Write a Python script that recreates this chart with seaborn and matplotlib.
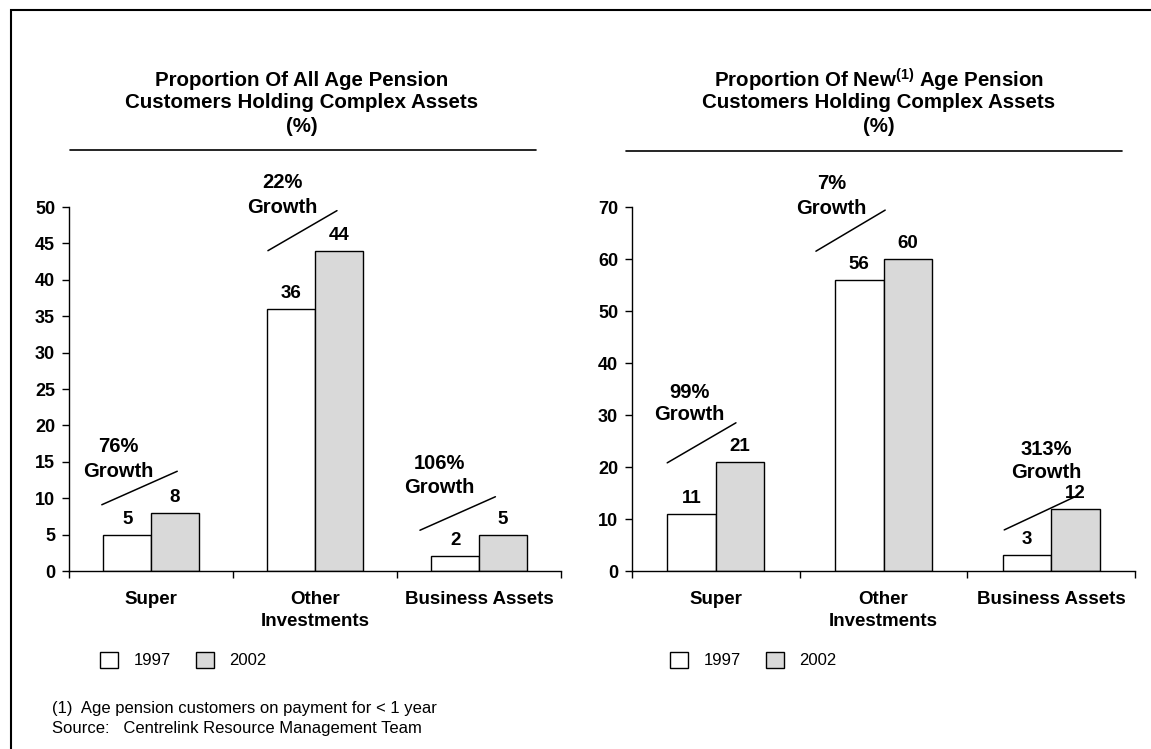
import matplotlib
matplotlib.use("Agg")
import matplotlib.pyplot as plt
from matplotlib.patches import Rectangle, Patch
from matplotlib.lines import Line2D
import seaborn as sns
import pandas as pd

# ---- data -------------------------------------------------------------
categories = ["Super", "Other\nInvestments", "Business Assets"]
years = ["1997", "2002"]

all_1997 = [5, 36, 2]
all_2002 = [8, 44, 5]
all_growth = ["76%", "22%", "106%"]

new_1997 = [11, 56, 3]
new_2002 = [21, 60, 12]
new_growth = ["99%", "7%", "313%"]

left_title = ["Proportion Of All Age Pension",
              "Customers Holding Complex Assets", "(%)"]
right_title = ["Proportion Of New$^{(1)}$ Age Pension",
               "Customers Holding Complex Assets", "(%)"]
left_ticks = [0, 5, 10, 15, 20, 25, 30, 35, 40, 45, 50]
right_ticks = [0, 10, 20, 30, 40, 50, 60, 70]

footnote = "(1)  Age pension customers on payment for < 1 year"
source = "Source:   Centrelink Resource Management Team"

# ---- style ------------------------------------------------------------
sns.set_theme(style="white")
plt.rcParams["font.family"] = ["Liberation Sans", "DejaVu Sans"]
plt.rcParams["text.color"] = "black"
plt.rcParams["axes.labelcolor"] = "black"
plt.rcParams["xtick.color"] = "black"
plt.rcParams["ytick.color"] = "black"
plt.rcParams["mathtext.fontset"] = "custom"
plt.rcParams["mathtext.rm"] = "Liberation Sans:bold"
plt.rcParams["mathtext.it"] = "Liberation Sans:bold"
plt.rcParams["mathtext.bf"] = "Liberation Sans:bold"

W, H = 1151, 749
fig = plt.figure(figsize=(W / 100, H / 100), dpi=100)
fig.patch.set_facecolor("white")


def fx(px):
    return px / W


def fy(py):
    return 1 - py / H


palette = {"1997": "white", "2002": "#d9d9d9"}


def long_frame(v97, v02):
    return pd.DataFrame({
        "category": categories * 2,
        "year": [years[0]] * 3 + [years[1]] * 3,
        "value": list(v97) + list(v02),
    })


def draw_panel(rect, v97, v02, ticks, growth, growth_pos, line_pos):
    ax = fig.add_axes(rect)
    df = long_frame(v97, v02)
    sns.barplot(data=df, x="category", y="value", hue="year",
                order=categories, hue_order=years, palette=palette,
                edgecolor="black", linewidth=1.0, width=0.58,
                legend=False, ax=ax)
    ax.set_xlim(-0.5, 2.5)
    ax.set_ylim(0, ticks[-1])
    ax.set_yticks(ticks)
    ax.set_yticklabels([str(t) for t in ticks], fontsize=13,
                       fontweight="bold", color="black")
    ax.set_xticks([-0.5, 0.5, 1.5, 2.5])
    ax.set_xticklabels([])
    ax.tick_params(axis="y", direction="out", length=5, width=1,
                   color="black", pad=5, left=True)
    ax.tick_params(axis="x", direction="out", length=5, width=1,
                   color="black", bottom=True)
    ax.set_xlabel("")
    ax.set_ylabel("")
    for side in ("top", "right"):
        ax.spines[side].set_visible(False)
    for side in ("left", "bottom"):
        ax.spines[side].set_color("black")
        ax.spines[side].set_linewidth(1.0)
    ax.set_facecolor("white")

    # value labels on every bar
    for cont, vals in zip(ax.containers, (v97, v02)):
        ax.bar_label(cont, labels=[str(v) for v in vals], padding=5,
                     fontsize=13.5, fontweight="bold", color="black")

    # category names under the axis
    for i, c in enumerate(categories):
        ax.text(i, -0.055, c, transform=ax.get_xaxis_transform(),
                ha="center", va="top", fontsize=13.5, fontweight="bold",
                linespacing=1.4, color="black")

    # growth annotations with slanted rule
    for g, (tx, ty1, ty2), (x0, y0, x1, y1) in zip(growth, growth_pos,
                                                     line_pos):
        ax.text(tx, ty1, g, ha="center", va="center", fontsize=14.5,
                fontweight="bold", clip_on=False, color="black")
        ax.text(tx, ty2, "Growth", ha="center", va="center",
                fontsize=14.5, fontweight="bold", clip_on=False,
                color="black")
        ax.add_line(Line2D([x0, x1], [y0, y1], color="black", lw=1.1,
                           clip_on=False))
    return ax


# left panel: all customers
ax1 = draw_panel(
    [fx(69), fy(571), fx(561) - fx(69), fy(207) - fy(571)],
    all_1997, all_2002, left_ticks, all_growth,
    [(-0.20, 17.1, 13.7), (0.80, 53.3, 49.9), (1.76, 14.8, 11.5)],
    [(-0.30, 9.1, 0.16, 13.7), (0.713, 44.0, 1.134, 49.5),
     (1.64, 5.6, 2.10, 10.2)],
)

# right panel: new customers
ax2 = draw_panel(
    [fx(632), fy(571), fx(1135) - fx(632), fy(207) - fy(571)],
    new_1997, new_2002, right_ticks, new_growth,
    [(-0.16, 34.4, 30.0), (0.69, 74.6, 69.8), (1.97, 23.4, 19.0)],
    [(-0.29, 20.8, 0.12, 28.5), (0.597, 61.5, 1.01, 69.4),
     (1.72, 7.9, 2.15, 14.4)],
)

# titles and rules above each panel
for lines, cx in ((left_title, 302), (right_title, 879)):
    for text, py in zip(lines, (80, 103, 127)):
        fig.text(fx(cx), fy(py), text, ha="center", va="center",
                 fontsize=14.8, fontweight="bold", color="black")
fig.add_artist(Line2D([fx(70), fx(536)], [fy(150), fy(150)],
                      color="black", lw=1.2))
fig.add_artist(Line2D([fx(626), fx(1122)], [fy(151), fy(151)],
                      color="black", lw=1.2))

# legends
handles = [Patch(facecolor=palette[y], edgecolor="black", linewidth=1.0,
                 label=y) for y in years]
for left_px in (100, 670):
    fig.legend(handles=handles, loc="center left",
               bbox_to_anchor=(fx(left_px), fy(660)),
               bbox_transform=fig.transFigure, ncol=2, frameon=False,
               fontsize=12, handlelength=1.1, handleheight=1.1,
               handletextpad=0.9, columnspacing=1.5, borderpad=0,
               borderaxespad=0, labelcolor="black")

# notes
fig.text(fx(52), fy(709), footnote, ha="left", va="center", fontsize=12,
         color="black")
fig.text(fx(52), fy(728), source, ha="left", va="center", fontsize=12,
         color="black")

# page frame
fig.add_artist(Rectangle((fx(11), fy(H + 20)), fx(W + 40), fy(10) - fy(H + 20),
                         transform=fig.transFigure, fill=False,
                         edgecolor="black", lw=1.5))

fig.savefig("out.png", dpi=100, facecolor="white")
